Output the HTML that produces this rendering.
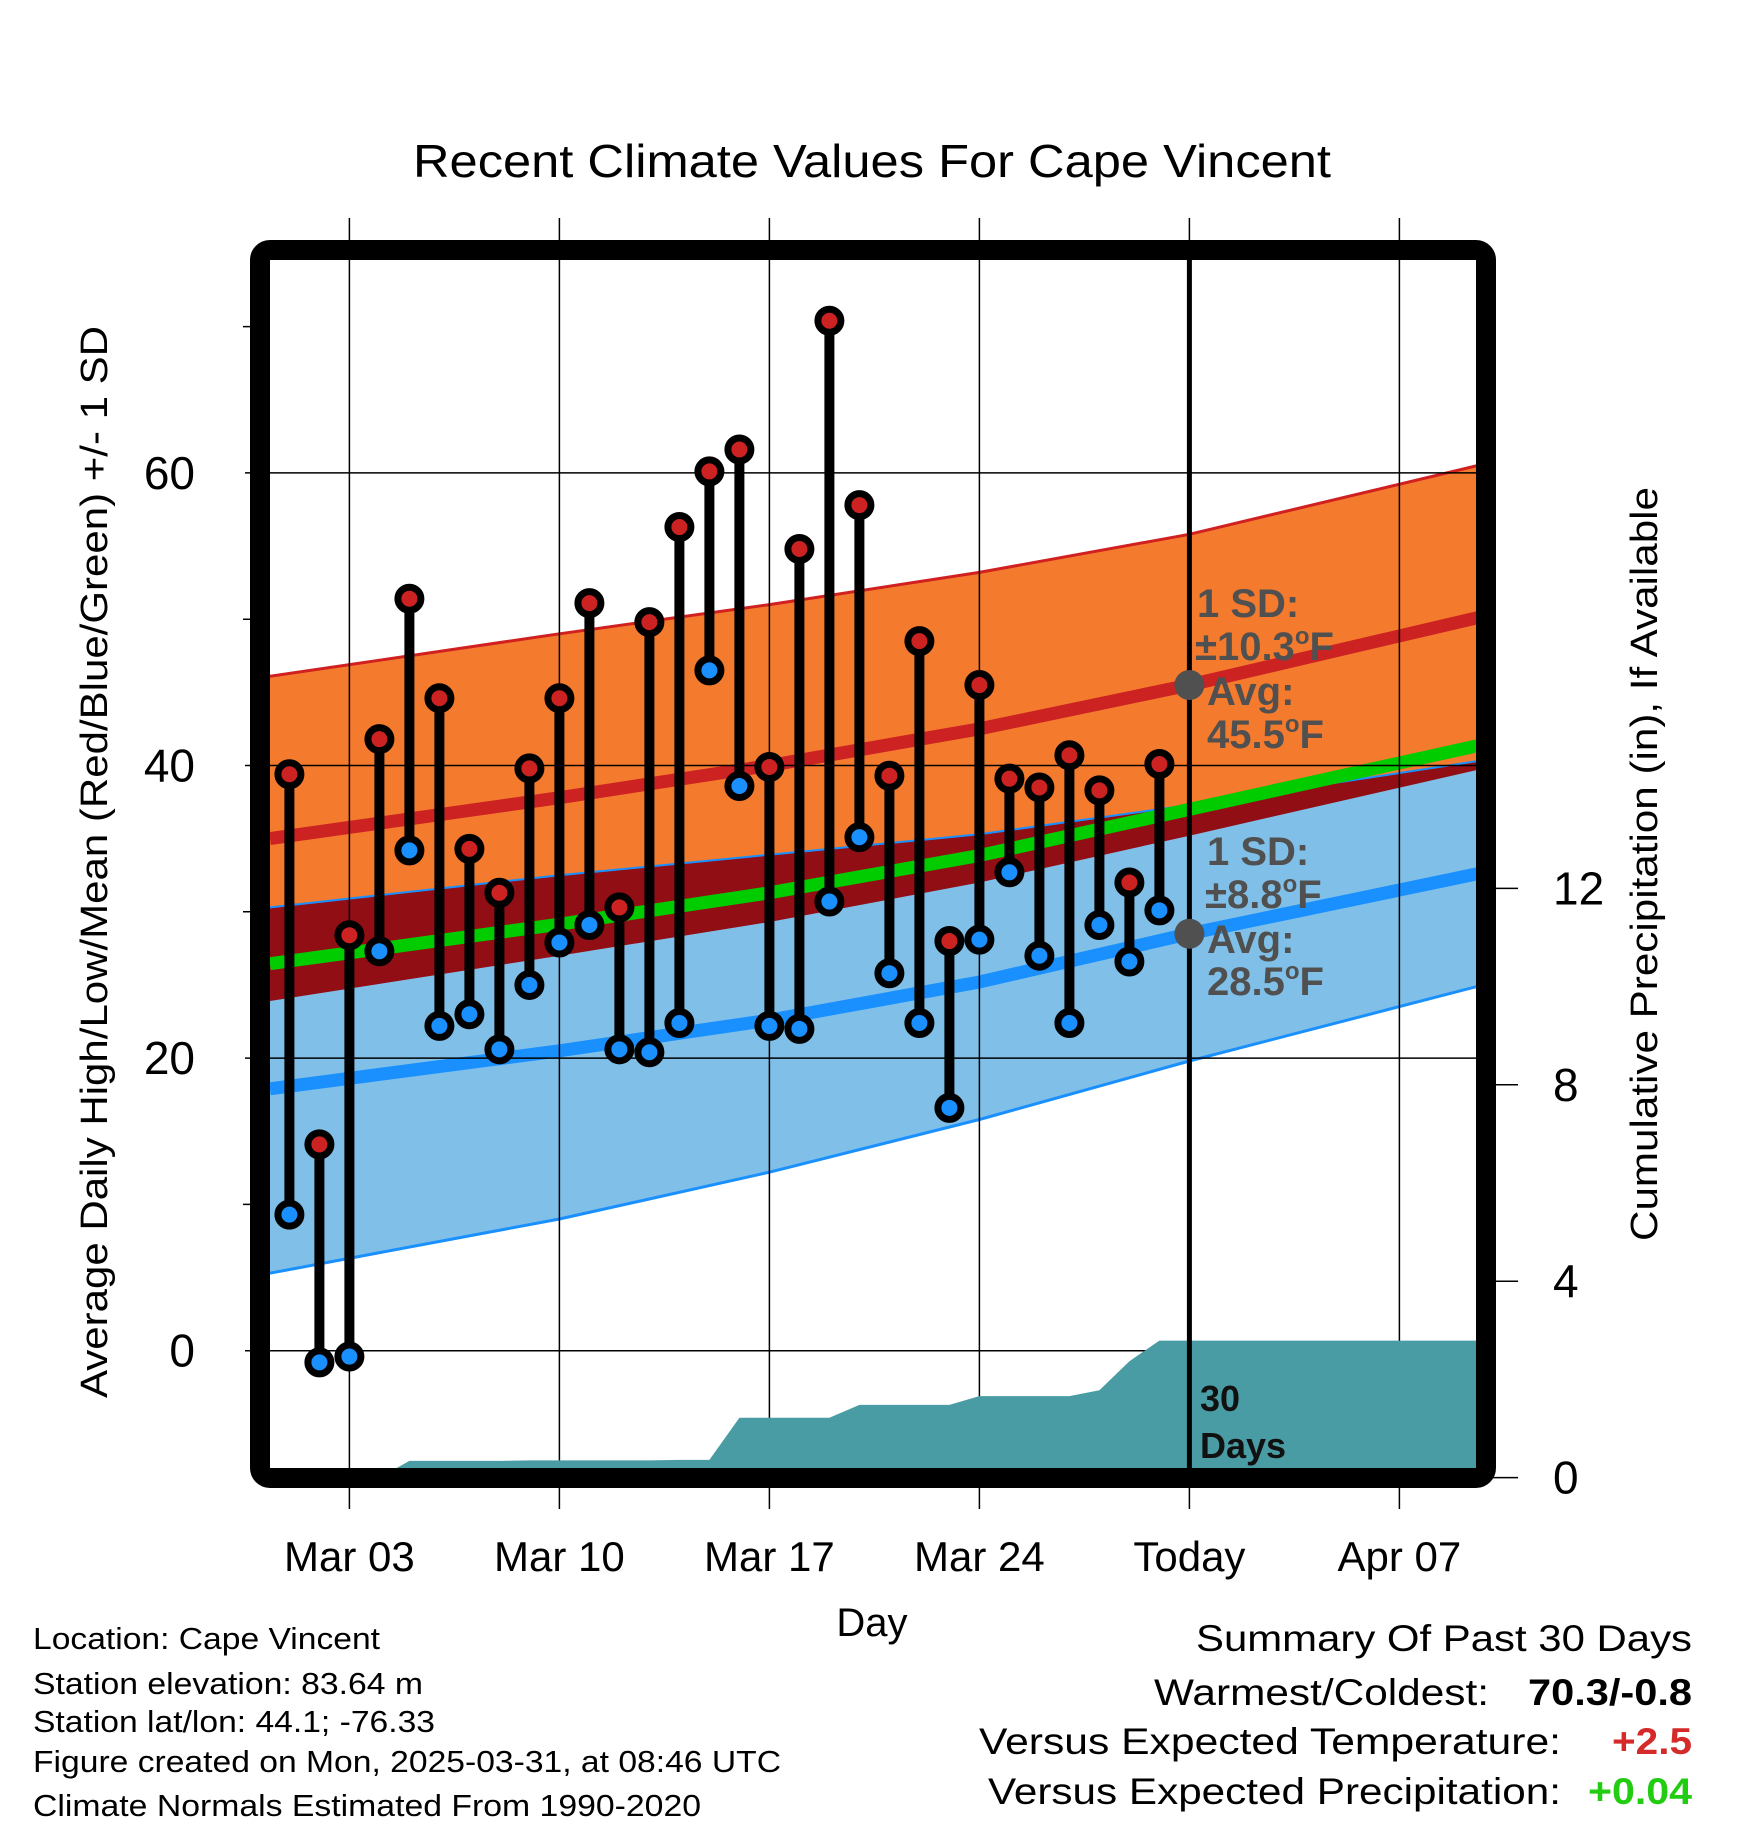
<!DOCTYPE html>
<html><head><meta charset="utf-8"><style>
html,body{margin:0;padding:0;background:#fff}
svg{display:block}
text{font-family:"Liberation Sans",Arial,sans-serif}
</style></head><body>
<svg id="chart" xmlns="http://www.w3.org/2000/svg" width="1748" height="1828" viewBox="0 0 1748 1828">
<defs><clipPath id="plotclip"><rect x="270" y="260" width="1207" height="1208"/></clipPath></defs>
<text x="872" y="177" font-size="46" text-anchor="middle" textLength="918" lengthAdjust="spacingAndGlyphs">Recent Climate Values For Cape Vincent</text>
<g id="bands" clip-path="url(#plotclip)"></g>
<g id="grid"></g>
<g id="precip" clip-path="url(#plotclip)"></g>
<g id="annot"></g>
<g id="marks"></g>
<rect x="260" y="250" width="1226" height="1228" rx="10" fill="none" stroke="#000" stroke-width="20"/>
<g id="axes"></g>
<text transform="translate(107,862) rotate(-90)" font-size="38" text-anchor="middle" textLength="1072" lengthAdjust="spacingAndGlyphs">Average Daily High/Low/Mean (Red/Blue/Green) +/- 1 SD</text>
<text transform="translate(1657,864) rotate(-90)" font-size="38" text-anchor="middle" textLength="754" lengthAdjust="spacingAndGlyphs">Cumulative Precipitation (in), If Available</text>
<text x="872" y="1636" font-size="40" text-anchor="middle">Day</text>
<g font-size="31">
<text x="33" y="1649" textLength="347" lengthAdjust="spacingAndGlyphs">Location: Cape Vincent</text>
<text x="33" y="1694" textLength="390" lengthAdjust="spacingAndGlyphs">Station elevation: 83.64 m</text>
<text x="33" y="1732" textLength="402" lengthAdjust="spacingAndGlyphs">Station lat/lon: 44.1; -76.33</text>
<text x="33" y="1772" textLength="748" lengthAdjust="spacingAndGlyphs">Figure created on Mon, 2025-03-31, at 08:46 UTC</text>
<text x="33" y="1816" textLength="668" lengthAdjust="spacingAndGlyphs">Climate Normals Estimated From 1990-2020</text>
</g>
<g font-size="37" text-anchor="end">
<text x="1692" y="1651" textLength="496" lengthAdjust="spacingAndGlyphs">Summary Of Past 30 Days</text>
<text x="1489" y="1705" textLength="335" lengthAdjust="spacingAndGlyphs">Warmest/Coldest:</text>
<text x="1692" y="1705" font-weight="bold" textLength="164" lengthAdjust="spacingAndGlyphs">70.3/-0.8</text>
<text x="1561" y="1754" textLength="582" lengthAdjust="spacingAndGlyphs">Versus Expected Temperature:</text>
<text x="1692" y="1754" font-weight="bold" fill="#d42a2a" textLength="80" lengthAdjust="spacingAndGlyphs">+2.5</text>
<text x="1561" y="1804" textLength="573" lengthAdjust="spacingAndGlyphs">Versus Expected Precipitation:</text>
<text x="1692" y="1804" font-weight="bold" fill="#22cc11" textLength="104" lengthAdjust="spacingAndGlyphs">+0.04</text>
</g>
</svg>
<script>
// ---- data ----
const days = [1,2,3,4,5,6,7,8,9,10,11,12,13,14,15,16,17,18,19,20,21,22,23,24,25,26,27,28,29,30];
const highs = [39.4,14.1,28.4,41.8,51.4,44.6,34.3,31.3,39.8,44.6,51.1,30.3,49.8,56.3,60.1,61.6,39.9,54.8,70.4,57.8,39.3,48.5,28.0,45.5,39.1,38.5,40.7,38.3,32.0,40.1];
const lows = [9.3,-0.8,-0.4,27.3,34.2,22.2,23.0,20.6,25.0,27.9,29.1,20.6,20.4,22.4,46.5,38.6,22.2,22.0,30.7,35.1,25.8,22.4,16.6,28.1,32.7,27.0,22.4,29.1,26.6,30.1];
const precipCum = [0,0,0,0,0.34,0.34,0.34,0.34,0.35,0.35,0.35,0.35,0.35,0.36,0.36,1.22,1.22,1.22,1.22,1.48,1.48,1.48,1.48,1.66,1.66,1.66,1.66,1.78,2.37,2.79,2.79,2.79,2.79,2.79,2.79,2.79,2.79,2.79,2.79,2.79,2.79];
const normDays = [0.35,10,17,24,31,40.6];
const highUpper = [46.1,49.0,51.0,53.2,55.8,60.5];
const highMean = [35.0,37.8,40.0,42.5,45.5,50.1];
const highLower = [23.9,27.0,29.3,32.0,35.2,39.7];
const lowUpper = [30.3,32.5,33.9,35.3,37.3,40.3];
const lowMean = [17.9,20.5,22.6,25.2,28.5,32.6];
const lowLower = [5.3,9.0,12.2,15.8,19.8,24.9];
const yTicks = [0,20,40,60];
const yMinor = [10,30,50,70];
const pTicks = [0,4,8,12];
const xTickDays = [3,10,17,24,31,38];
const xTickLabels = ["Mar 03","Mar 10","Mar 17","Mar 24","Today","Apr 07"];
const todayDay = 31;

const NS = "http://www.w3.org/2000/svg";
const X = d => 349.4 + (d - 3) * 30;
const Y = v => 1350.7 - 14.63 * v;
const YP = p => 1477.6 - 49.1 * p;
function mk(tag, attrs, parent){const e=document.createElementNS(NS,tag);for(const k in attrs)e.setAttribute(k,attrs[k]);parent.appendChild(e);return e;}
function pts(arr){return normDays.map((d,i)=>X(d).toFixed(1)+","+Y(arr[i]).toFixed(1));}
function band(up,lo){return "M"+pts(up).join(" L")+" L"+pts(lo).reverse().join(" L")+" Z";}
const bands=document.getElementById('bands');
let e;
e=mk('path',{d:band(highUpper,highLower),fill:'#f47a2e'},bands);


e=mk('path',{d:band(lowUpper,lowLower),fill:'#80c0e8'},bands);


const ovUp=lowUpper.map((v,i)=>Math.min(v,highUpper[i]));
const ovLo=highLower.map((v,i)=>Math.min(highLower[i],lowUpper[i]));
e=mk('path',{d:band(ovUp,ovLo),fill:'#920e15'},bands);


const meanLine=highMean.map((v,i)=>(v+lowMean[i])/2);
function line(arr,col,w,name){const l=mk('polyline',{points:pts(arr).join(" "),fill:'none',stroke:col,'stroke-width':w},bands);}
line(highUpper,'#d02020',3,'high-upper-line');
line(lowUpper,'#1a90ff',2,'low-upper-line');
line(lowLower,'#1a90ff',3,'low-lower-line');
line(highMean,'#cc2222',13,'high-mean-line');
line(lowMean,'#1a90ff',13,'low-mean-line');
line(meanLine,'#00cc00',13,'mean-line');

// grid
const grid=document.getElementById('grid');
yTicks.forEach(v=>{const g=mk('line',{x1:270,x2:1477,y1:Y(v),y2:Y(v),stroke:'#000','stroke-width':1.5},grid);});
xTickDays.forEach(d=>{const g=mk('line',{x1:X(d),x2:X(d),y1:218,y2:1509,stroke:'#000','stroke-width':1.5},grid);});

// precip
const pr=document.getElementById('precip');
let pd="M"+X(1)+","+YP(0);
precipCum.forEach((p,i)=>{pd+=" L"+X(i+1).toFixed(1)+","+YP(p).toFixed(1);});
pd+=" L"+X(precipCum.length)+","+YP(0)+" Z";
e=mk('path',{d:pd,fill:'#4a9ca4'},pr);



// today line (thick inside plot)
const tl=mk('line',{x1:X(todayDay),x2:X(todayDay),y1:260,y2:1468,stroke:'#000','stroke-width':5},pr);



// annotations
const an=document.getElementById('annot');
const ti=normDays.indexOf(todayDay);
[highMean[ti],lowMean[ti]].forEach(v=>{const c=mk('circle',{cx:X(todayDay),cy:Y(v),r:15,fill:'#505050'},an);});
function at(x,y,html){const t=mk('text',{x:x,y:y,'font-size':40,'font-weight':'bold',fill:'#505050'},an);t.innerHTML=html;return t;}
const deg='<tspan font-size="24" dy="-16">o</tspan><tspan dy="16">F</tspan>';
at(1197,617,'1 SD:');
at(1195,660,'±10.3'+deg);
at(1207,705,'Avg:');
at(1207,748,'45.5'+deg);
at(1207,865,'1 SD:');
at(1205,908,'±8.8'+deg);
at(1207,953,'Avg:');
at(1207,995,'28.5'+deg);
let t=mk('text',{x:1200,y:1411,'font-size':36,'font-weight':'bold',fill:'#111'},an);t.textContent='30';


t=mk('text',{x:1200,y:1458,'font-size':36,'font-weight':'bold',fill:'#111'},an);t.textContent='Days';



// marks
const mg=document.getElementById('marks');
days.forEach((d,i)=>{
  const s=mk('line',{x1:X(d),x2:X(d),y1:Y(highs[i]),y2:Y(lows[i]),stroke:'#000','stroke-width':10},mg);
  
  
});
days.forEach((d,i)=>{
  const h=mk('circle',{cx:X(d),cy:Y(highs[i]),r:11.5,fill:'#cc2222',stroke:'#000','stroke-width':7},mg);
  
  
  const l=mk('circle',{cx:X(d),cy:Y(lows[i]),r:11.5,fill:'#1a90ff',stroke:'#000','stroke-width':7},mg);
  
  
});

// axes
const ax=document.getElementById('axes');
yTicks.forEach(v=>{
  const l=mk('line',{x1:245,x2:262,y1:Y(v),y2:Y(v),stroke:'#000','stroke-width':1.5},ax);
  
  
  const tx=mk('text',{x:195,y:Y(v)+16,'font-size':46,'text-anchor':'end'},ax);tx.textContent=String(v);
  
  
});
yMinor.forEach(v=>{
  const l=mk('line',{x1:243,x2:262,y1:Y(v),y2:Y(v),stroke:'#000','stroke-width':1.5},ax);
  
  
});
pTicks.forEach(p=>{
  const l=mk('line',{x1:1486,x2:1518,y1:YP(p),y2:YP(p),stroke:'#000','stroke-width':1.5},ax);
  
  
  const tx=mk('text',{x:1553,y:YP(p)+16,'font-size':46},ax);tx.textContent=String(p);
  
  
});
xTickDays.forEach((d,i)=>{
  const tx=mk('text',{x:X(d),y:1571,'font-size':42,'text-anchor':'middle'},ax);tx.textContent=xTickLabels[i];
  
  
});
</script>
</body></html>
